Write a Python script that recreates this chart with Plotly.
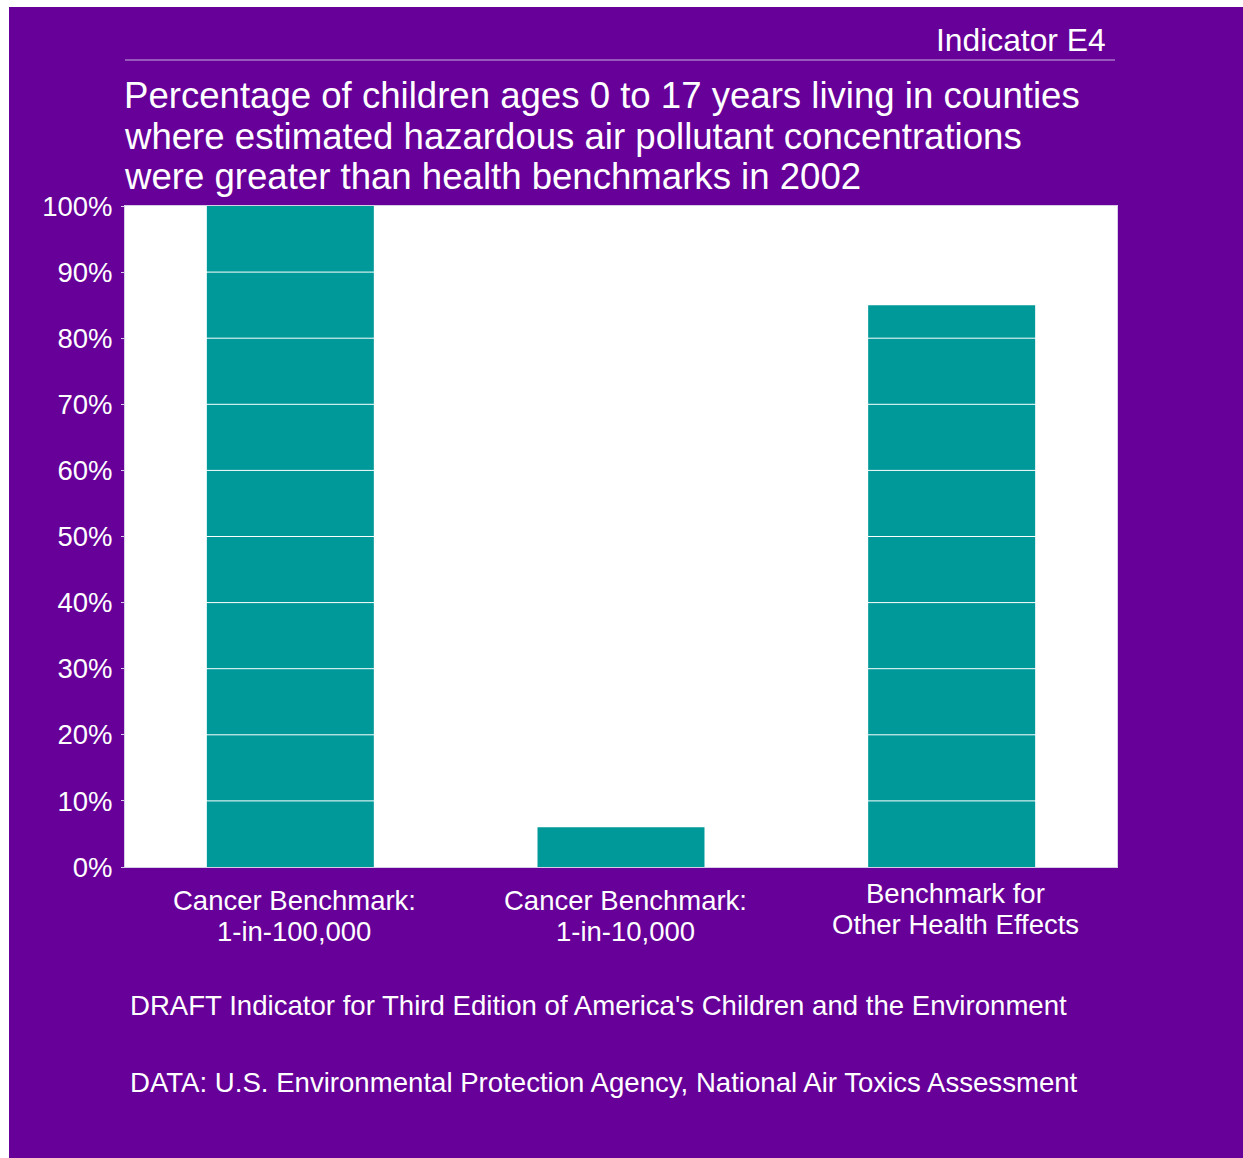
import plotly.graph_objects as go

categories = ["Cancer Benchmark: 1-in-100,000", "Cancer Benchmark: 1-in-10,000", "Benchmark for Other Health Effects"]
cat_lines = [["Cancer Benchmark:", "1-in-100,000"],
             ["Cancer Benchmark:", "1-in-10,000"],
             ["Benchmark for", "Other Health Effects"]]
values = [100, 6, 85]
tick_vals = [0, 10, 20, 30, 40, 50, 60, 70, 80, 90, 100]
tick_text = [f"{v}%" for v in tick_vals]
title_lines = ["Percentage of children ages 0 to 17 years living in counties",
               "where estimated hazardous air pollutant concentrations",
               "were greater than health benchmarks in 2002"]
footer_lines = ["DRAFT Indicator for Third Edition of America's Children and the Environment",
                "DATA: U.S. Environmental Protection Agency, National Air Toxics Assessment"]

PURPLE = "#660099"
TEAL = "#009999"
AXIS = "#d8cce6"
FONT = "Liberation Sans, Arial, sans-serif"

W, H = 1243, 1158
X0, X1, Y0, Y1 = 125, 1117, 206, 867  # plot area in page pixels
ML, MR, MT, MB = X0, W - X1, Y0, H - Y1
PW, PH = W - ML - MR, H - MT - MB

def px(x):
    return (x - ML) / PW

def py(y):
    return 1 - (y - MT) / PH

fig = go.Figure()
fig.add_trace(go.Bar(
    x=categories, y=values, width=0.505,
    marker=dict(color=TEAL, line=dict(width=0)),
    hoverinfo="x+y",
))

fig.update_layout(
    width=W, height=H,
    margin=dict(l=ML, r=MR, t=MT, b=MB, pad=0),
    paper_bgcolor="white", plot_bgcolor="white",
    font=dict(family=FONT, color="white", size=27),
    showlegend=False,
    xaxis=dict(
        type="category", range=[-0.5, 2.5], showgrid=False,
        showline=True, mirror=True, linecolor=AXIS, linewidth=1,
        showticklabels=False, ticks="",
        fixedrange=True,
    ),
    yaxis=dict(
        range=[0, 100], tickvals=tick_vals, ticktext=tick_text,
        showgrid=False,
        showline=True, mirror=True, linecolor=AXIS, linewidth=1,
        ticks="outside", ticklen=3, tickcolor=AXIS,
        ticklabelstandoff=3,
        tickfont=dict(size=27.5, color="white", family=FONT),
        zeroline=False, layer="above traces",
        fixedrange=True,
    ),
)

# purple page panel, then white plot panel on top of it
fig.add_shape(type="rect", xref="paper", yref="paper",
              x0=px(9), x1=px(1243 + 5), y0=py(7), y1=py(1158 + 5),
              fillcolor=PURPLE, line=dict(width=0), layer="below")
fig.add_shape(type="rect", xref="paper", yref="paper",
              x0=0, x1=1, y0=0, y1=1,
              fillcolor="white", line=dict(width=0), layer="below")

# white gridlines drawn over the bars
for v in tick_vals[1:-1]:
    fig.add_shape(type="line", xref="paper", yref="y", x0=0, x1=1, y0=v, y1=v,
                  line=dict(color="white", width=1), layer="above")

# Header rule under "Indicator E4"
fig.add_shape(type="line", xref="paper", yref="paper",
              x0=px(125), x1=px(1115), y0=py(60), y1=py(60),
              line=dict(color="#c8b0dc", width=1))

fig.add_annotation(text="Indicator E4", xref="paper", yref="paper",
                   x=px(1108), y=py(40), xanchor="right", yanchor="middle",
                   showarrow=False, font=dict(size=31.8, color="white", family=FONT))

for i, line in enumerate(title_lines):
    fig.add_annotation(text=line, xref="paper", yref="paper",
                       x=px(122), y=py(95.5 + 40.5 * i),
                       xanchor="left", yanchor="middle", showarrow=False,
                       font=dict(size=36.6, color="white", family=FONT))

# category labels
cat_y = [(900, 931), (900, 931), (893, 924)]
for cat, lines, ys in zip(categories, cat_lines, cat_y):
    for line, yy in zip(lines, ys):
        fig.add_annotation(text=line, xref="x", yref="paper", x=cat, y=py(yy),
                           xanchor="center", yanchor="middle", showarrow=False,
                           xshift=4,
                           font=dict(size=27.5, color="white", family=FONT))

for line, yy in zip(footer_lines, [1005, 1082]):
    fig.add_annotation(text=line, xref="paper", yref="paper",
                       x=px(128), y=py(yy), xanchor="left", yanchor="middle",
                       showarrow=False, font=dict(size=27.6, color="white", family=FONT))

fig.write_html("out.html")
